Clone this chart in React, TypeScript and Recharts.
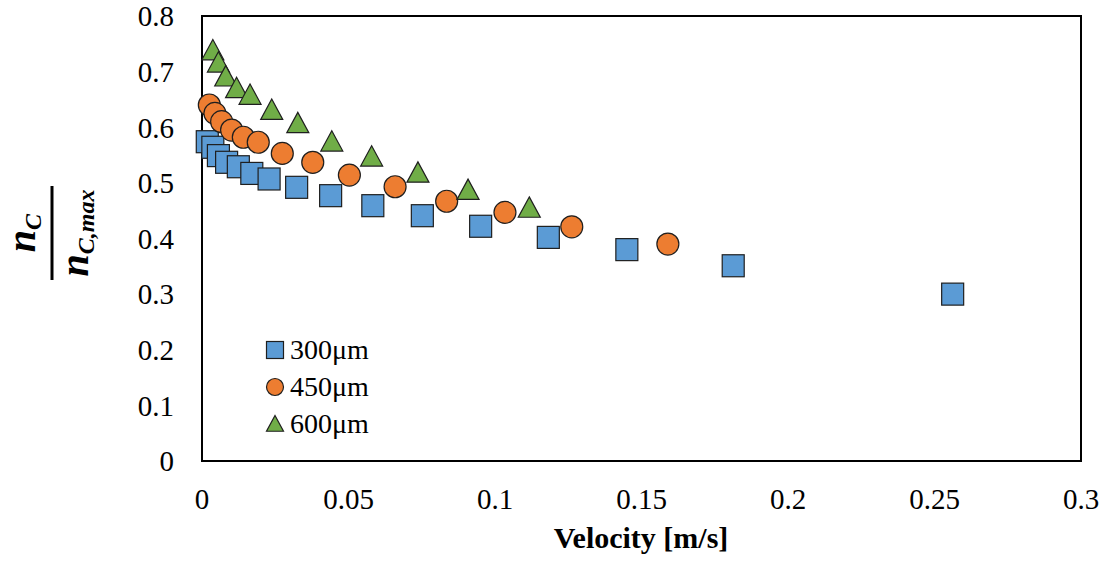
import React from "react";
import {
  ScatterChart,
  Scatter,
  XAxis,
  YAxis,
  ReferenceArea,
  Legend,
} from "recharts";

// velocities [m/s] and normalised values
const vel300 = [0.0018, 0.0037, 0.0056, 0.0084, 0.0124, 0.017, 0.0229, 0.0323, 0.0439, 0.0583, 0.0752, 0.0951, 0.1182, 0.145, 0.1813, 0.2562];
const n300 = [0.574, 0.564, 0.549, 0.537, 0.529, 0.517, 0.507, 0.492, 0.477, 0.459, 0.441, 0.422, 0.402, 0.38, 0.351, 0.3];

const vel450 = [0.0025, 0.0044, 0.0067, 0.0101, 0.0141, 0.0192, 0.0274, 0.0378, 0.0503, 0.0659, 0.0835, 0.1034, 0.1262, 0.159];
const n450 = [0.64, 0.625, 0.61, 0.595, 0.582, 0.573, 0.553, 0.537, 0.514, 0.493, 0.467, 0.447, 0.421, 0.39];

const vel600 = [0.0037, 0.0056, 0.0081, 0.0118, 0.0164, 0.0238, 0.0327, 0.0443, 0.0579, 0.0737, 0.0908, 0.1117];
const n600 = [0.738, 0.716, 0.691, 0.67, 0.658, 0.631, 0.607, 0.574, 0.547, 0.518, 0.487, 0.455];

const xTicks = [0, 0.05, 0.1, 0.15, 0.2, 0.25, 0.3];
const yTicks = [0, 0.1, 0.2, 0.3, 0.4, 0.5, 0.6, 0.7, 0.8];

const series = [
  { name: "300μm", x: vel300, y: n300, color: "#5B9BD5", shape: "square" },
  { name: "450μm", x: vel450, y: n450, color: "#ED7D31", shape: "circle" },
  { name: "600μm", x: vel600, y: n600, color: "#70AD47", shape: "triangle" },
];

const toRows = (xs: number[], ys: number[]) => xs.map((v, i) => ({ v, n: ys[i] }));

const serif = "Liberation Serif, Tinos, DejaVu Serif, serif";
const EDGE = "#1f1f1f";

function Marker({ kind, cx, cy, fill, size }: any) {
  const h = size / 2;
  if (kind === "square")
    return <rect x={cx - h} y={cy - h} width={size} height={size} fill={fill} stroke={EDGE} strokeWidth={1.2} />;
  if (kind === "circle")
    return <circle cx={cx} cy={cy} r={h} fill={fill} stroke={EDGE} strokeWidth={1.2} />;
  return (
    <polygon
      points={`${cx},${cy - h} ${cx + h},${cy + h * 0.85} ${cx - h},${cy + h * 0.85}`}
      fill={fill}
      stroke={EDGE}
      strokeWidth={1.2}
    />
  );
}

function YTitle() {
  return (
    <g transform="translate(52,233) rotate(-90)" style={{ fontFamily: serif, fontWeight: "bold", fontStyle: "italic" }} fill="#000">
      <text x={0} y={-17} textAnchor="middle" fontSize={40}>
        n<tspan fontSize={24} dy={6}>C</tspan>
      </text>
      <line x1={-47} x2={47} y1={0} y2={0} stroke="#000" strokeWidth={3} />
      <text x={0} y={36} textAnchor="middle" fontSize={40}>
        n<tspan fontSize={24} dy={6}>C,max</tspan>
      </text>
    </g>
  );
}

function XTitle() {
  return (
    <text x={641} y={548} textAnchor="middle" style={{ fontFamily: serif, fontWeight: "bold" }} fontSize={30} fill="#000">
      Velocity [m/s]
    </text>
  );
}

function LegendBox() {
  return (
    <div style={{ fontFamily: serif, fontSize: 28, color: "#000", lineHeight: "37px" }}>
      {series.map((s) => (
        <div key={s.name} style={{ display: "flex", alignItems: "center", height: 37 }}>
          <svg width={22} height={22} style={{ marginRight: 4 }}>
            <Marker kind={s.shape} cx={11} cy={11} fill={s.color} size={17} />
          </svg>
          <span>{s.name}</span>
        </div>
      ))}
    </div>
  );
}

const tickStyle = { fontSize: 29, fill: "#000", style: { fontFamily: serif } };

export default function App() {
  return (
    <div style={{ position: "absolute", left: 0, top: 0, width: 1105, height: 562, background: "#fff", fontFamily: serif }}>
      <ScatterChart width={1105} height={562} margin={{ top: 16, right: 24, bottom: 0, left: 0 }} style={{ fontFamily: serif }}>
        <XAxis
          type="number"
          dataKey="v"
          domain={[0, 0.3]}
          ticks={xTicks}
          interval={0}
          height={101}
          axisLine={false}
          tickLine={false}
          tickSize={0}
          tickMargin={27}
          tick={tickStyle}
          label={<XTitle />}
        />
        <YAxis
          type="number"
          dataKey="n"
          domain={[0, 0.8]}
          ticks={yTicks}
          interval={0}
          width={202}
          axisLine={false}
          tickLine={false}
          tickSize={0}
          tickMargin={28}
          tick={tickStyle}
          label={<YTitle />}
        />
        <ReferenceArea x1={0} x2={0.3} y1={0} y2={0.8} fill="none" stroke="#000" strokeWidth={2} ifOverflow="visible" />
        {series.map((s) => (
          <Scatter
            key={s.name}
            name={s.name}
            data={toRows(s.x, s.y)}
            fill={s.color}
            isAnimationActive={false}
            shape={(p: any) => <Marker kind={s.shape} cx={p.cx} cy={p.cy} fill={s.color} size={22} />}
          />
        ))}
        <Legend
          layout="vertical"
          align="center"
          verticalAlign="middle"
          wrapperStyle={{ left: 264, top: 331, width: "auto" }}
          content={() => <LegendBox />}
        />
      </ScatterChart>
    </div>
  );
}
